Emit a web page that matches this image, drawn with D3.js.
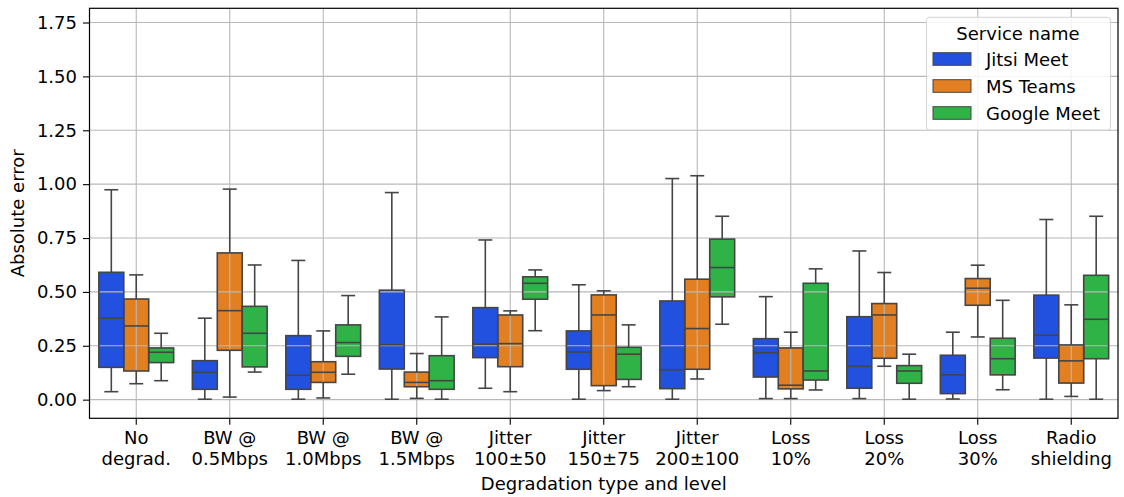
<!DOCTYPE html>
<html>
<head>
<meta charset="utf-8">
<script src="https://cdn.jsdelivr.net/npm/d3@7"></script>
<style>
  body { margin: 0; background: #fff; }
  svg text { font-family: "DejaVu Sans", sans-serif; fill: #000; }
</style>
</head>
<body>
<div id="chart"></div>
<script>
// categories along x (two label lines each)
const categories = [
  ["No", "degrad."], ["BW @", "0.5Mbps"], ["BW @", "1.0Mbps"], ["BW @", "1.5Mbps"],
  ["Jitter", "100\u00b150"], ["Jitter", "150\u00b175"], ["Jitter", "200\u00b1100"],
  ["Loss", "10%"], ["Loss", "20%"], ["Loss", "30%"], ["Radio", "shielding"]
];
const seriesNames = ["Jitsi Meet", "MS Teams", "Google Meet"];
const seriesColors = ["#2251e0", "#e17f21", "#2fb347"];
const yTicks = [0, 0.25, 0.5, 0.75, 1.0, 1.25, 1.5, 1.75];

// [whisker low, q1, median, q3, whisker high] per category
const jitsi = [
  [0.037, 0.150, 0.378, 0.591, 0.974],
  [0.002, 0.048, 0.127, 0.181, 0.378],
  [0.002, 0.048, 0.113, 0.297, 0.646],
  [0.002, 0.142, 0.255, 0.508, 0.961],
  [0.053, 0.195, 0.257, 0.427, 0.741],
  [0.002, 0.141, 0.221, 0.319, 0.533],
  [0.002, 0.051, 0.139, 0.458, 1.026],
  [0.005, 0.105, 0.218, 0.283, 0.478],
  [0.005, 0.053, 0.155, 0.385, 0.690],
  [0.003, 0.028, 0.115, 0.206, 0.313],
  [0.002, 0.193, 0.299, 0.485, 0.836]
];
const msTeams = [
  [0.074, 0.133, 0.342, 0.467, 0.579],
  [0.012, 0.229, 0.413, 0.681, 0.977],
  [0.008, 0.080, 0.127, 0.176, 0.319],
  [0.006, 0.060, 0.080, 0.128, 0.214],
  [0.037, 0.153, 0.260, 0.393, 0.412],
  [0.042, 0.065, 0.393, 0.486, 0.505],
  [0.096, 0.141, 0.330, 0.559, 1.039],
  [0.005, 0.050, 0.067, 0.240, 0.313],
  [0.155, 0.192, 0.393, 0.446, 0.590],
  [0.291, 0.438, 0.517, 0.562, 0.624],
  [0.015, 0.077, 0.180, 0.254, 0.440]
];
const googleMeet = [
  [0.088, 0.172, 0.220, 0.240, 0.308],
  [0.128, 0.152, 0.308, 0.433, 0.625],
  [0.118, 0.201, 0.265, 0.347, 0.483],
  [0.002, 0.048, 0.088, 0.204, 0.384],
  [0.320, 0.466, 0.540, 0.570, 0.602],
  [0.060, 0.094, 0.211, 0.243, 0.347],
  [0.350, 0.477, 0.613, 0.745, 0.851],
  [0.045, 0.091, 0.133, 0.540, 0.607],
  [0.002, 0.076, 0.133, 0.158, 0.211],
  [0.046, 0.115, 0.190, 0.285, 0.461],
  [0.002, 0.190, 0.373, 0.577, 0.851]
];
const allSeries = [jitsi, msTeams, googleMeet];

const width = 1124, height = 497;
const margin = {top: 8.3, right: 6, bottom: 78.7, left: 89.5};
const lineColor = "#454545";
const gridColor = "#b8b8b8";
const fontSize = 18;

const svg = d3.select("#chart").append("svg")
  .attr("width", width).attr("height", height);

const x = d3.scaleBand()
  .domain(d3.range(categories.length))
  .range([margin.left, width - margin.right])
  .padding(0);
const xs = d3.scaleBand()
  .domain(d3.range(seriesNames.length))
  .range([x.bandwidth() * 0.1, x.bandwidth() * 0.9])
  .padding(0);
const y = d3.scaleLinear()
  .domain([-0.0865, 1.816])
  .range([height - margin.bottom, margin.top]);

const plotBottom = height - margin.bottom;
const bw = xs.bandwidth();
const capW = bw * 0.56;

// boxes (patches under the grid)
const boxes = svg.append("g");
allSeries.forEach(function(series, si) {
  boxes.selectAll(null)
    .data(series)
    .join("rect")
      .attr("x", (d, i) => x(i) + xs(si))
      .attr("y", d => y(d[3]))
      .attr("width", bw)
      .attr("height", d => y(d[1]) - y(d[3]))
      .attr("fill", seriesColors[si]);
});

// grid
const grid = svg.append("g").attr("stroke", gridColor).attr("stroke-width", 1.1);
grid.selectAll("line.h")
  .data(yTicks)
  .join("line")
    .attr("class", "h")
    .attr("x1", margin.left).attr("x2", width - margin.right)
    .attr("y1", d => y(d)).attr("y2", d => y(d));
grid.selectAll("line.v")
  .data(d3.range(categories.length))
  .join("line")
    .attr("class", "v")
    .attr("x1", d => x(d) + x.bandwidth() / 2).attr("x2", d => x(d) + x.bandwidth() / 2)
    .attr("y1", margin.top).attr("y2", plotBottom);

// box outlines, whiskers, caps, medians
const lines = svg.append("g")
  .attr("stroke", lineColor).attr("stroke-width", 1.6).attr("fill", "none");
allSeries.forEach(function(series, si) {
  const g = lines.append("g");
  series.forEach(function(d, i) {
    const x0 = x(i) + xs(si);
    const cx = x0 + bw / 2;
    g.append("rect")
      .attr("x", x0).attr("y", y(d[3]))
      .attr("width", bw).attr("height", y(d[1]) - y(d[3]));
    g.append("line").attr("x1", cx).attr("x2", cx).attr("y1", y(d[3])).attr("y2", y(d[4]));
    g.append("line").attr("x1", cx).attr("x2", cx).attr("y1", y(d[1])).attr("y2", y(d[0]));
    g.append("line").attr("x1", cx - capW / 2).attr("x2", cx + capW / 2).attr("y1", y(d[4])).attr("y2", y(d[4]));
    g.append("line").attr("x1", cx - capW / 2).attr("x2", cx + capW / 2).attr("y1", y(d[0])).attr("y2", y(d[0]));
    g.append("line").attr("x1", x0).attr("x2", x0 + bw).attr("y1", y(d[2])).attr("y2", y(d[2]));
  });
});

// axes
const yAxis = svg.append("g")
  .attr("transform", "translate(" + margin.left + ",0)")
  .call(d3.axisLeft(y).tickValues(yTicks).tickFormat(d3.format(".2f")).tickSize(6.5).tickPadding(6));
yAxis.select(".domain").remove();
yAxis.selectAll("text").attr("font-size", fontSize).attr("font-family", "DejaVu Sans");
yAxis.selectAll("line").attr("stroke", "#000").attr("stroke-width", 1.1);

const xAxis = svg.append("g")
  .attr("transform", "translate(0," + plotBottom + ")")
  .call(d3.axisBottom(x).tickFormat("").tickSize(6.5));
xAxis.select(".domain").remove();
xAxis.selectAll("line").attr("stroke", "#000").attr("stroke-width", 1.1);

svg.append("g").selectAll("text")
  .data(categories)
  .join("text")
    .attr("x", (d, i) => x(i) + x.bandwidth() / 2)
    .attr("y", plotBottom + 26)
    .attr("text-anchor", "middle")
    .attr("font-size", fontSize)
    .selectAll("tspan")
    .data(d => d)
    .join("tspan")
      .attr("x", function() { return this.parentNode.getAttribute("x"); })
      .attr("dy", (d, i) => i === 0 ? 0 : 20.5)
      .text(d => d);

// frame
svg.append("rect")
  .attr("x", margin.left).attr("y", margin.top)
  .attr("width", width - margin.right - margin.left)
  .attr("height", plotBottom - margin.top)
  .attr("fill", "none").attr("stroke", "#000").attr("stroke-width", 1.2);

// axis titles
svg.append("text")
  .attr("x", margin.left + (width - margin.right - margin.left) / 2)
  .attr("y", 490)
  .attr("text-anchor", "middle")
  .attr("font-size", fontSize)
  .text("Degradation type and level");
svg.append("text")
  .attr("transform", "translate(24," + (margin.top + (plotBottom - margin.top) / 2) + ") rotate(-90)")
  .attr("text-anchor", "middle")
  .attr("font-size", fontSize)
  .text("Absolute error");

// legend
const legend = svg.append("g");
legend.append("rect")
  .attr("x", 926.5).attr("y", 17.3).attr("width", 184).attr("height", 112.7)
  .attr("rx", 3).attr("fill", "#fff").attr("fill-opacity", 0.85)
  .attr("stroke", "#d4d4d4").attr("stroke-width", 1);
legend.append("text")
  .attr("x", 1018).attr("y", 39.5)
  .attr("text-anchor", "middle").attr("font-size", fontSize)
  .text("Service name");
const items = legend.selectAll("g.item")
  .data(seriesNames)
  .join("g")
    .attr("class", "item")
    .attr("transform", (d, i) => "translate(933," + (52.7 + i * 27) + ")");
items.append("rect")
  .attr("width", 38).attr("height", 12.6)
  .attr("fill", (d, i) => seriesColors[i])
  .attr("stroke", lineColor).attr("stroke-width", 1);
items.append("text")
  .attr("x", 53).attr("y", 12.8)
  .attr("font-size", fontSize)
  .text(d => d);
</script>
</body>
</html>
